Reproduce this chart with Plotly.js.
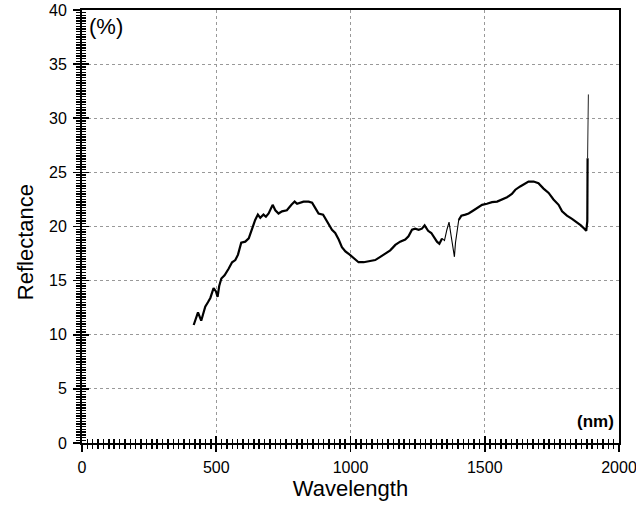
<!DOCTYPE html>
<html>
<head>
<meta charset="utf-8">
<script src="https://cdn.plot.ly/plotly-3.0.1.min.js"></script>
<style>html,body{margin:0;padding:0;background:#fff;}#chart{width:636px;height:506px;}</style>
</head>
<body>
<div id="chart"></div>
<script>
// Segment 1: 416–1341 nm (thick)
const wl1 = [416,432,444,459,469,478,490,499,505,511,519,531,546,559,571,581,593,608,621,633,645,655,664,676,685,695,710,720,732,745,763,780,792,801,813,825,844,857,869,881,898,912,931,943,956,968,981,997,1012,1030,1049,1067,1092,1111,1130,1148,1167,1185,1204,1216,1229,1241,1254,1266,1276,1289,1301,1313,1322,1331,1341];
const refl1 = [10.9,12.06,11.3,12.6,13.0,13.4,14.3,14.0,13.5,14.5,15.2,15.5,16.1,16.7,16.9,17.4,18.5,18.6,18.9,19.8,20.6,21.1,20.8,21.1,20.9,21.2,22.0,21.5,21.2,21.4,21.5,22.0,22.3,22.1,22.2,22.3,22.3,22.2,21.7,21.2,21.1,20.5,19.7,19.4,18.8,18.1,17.7,17.4,17.1,16.7,16.7,16.8,16.9,17.2,17.5,17.8,18.3,18.6,18.8,19.1,19.7,19.8,19.7,19.8,20.1,19.6,19.4,18.9,18.6,18.4,18.9];
// Segment 2: noisy 1341–1403 nm (thin)
const wl2 = [1341,1350,1359,1367,1375,1380,1387,1391,1398,1403];
const refl2 = [18.9,18.7,19.7,20.4,19.1,18.3,17.2,18.5,19.5,20.6];
// Segment 3: 1403–1883 nm (thick)
const wl3 = [1403,1413,1428,1440,1459,1477,1490,1508,1527,1546,1564,1583,1601,1614,1632,1651,1663,1682,1700,1719,1738,1756,1775,1788,1806,1825,1844,1858,1871,1878,1882,1883];
const refl3 = [20.6,21.0,21.1,21.2,21.5,21.8,22.0,22.1,22.25,22.3,22.5,22.7,23.0,23.4,23.7,24.0,24.15,24.15,24.0,23.5,23.1,22.5,22.0,21.4,21.0,20.7,20.4,20.1,19.8,19.6,20.5,26.3];
// Segment 4: end spike (thin)
const wl4 = [1883,1886];
const refl4 = [26.3,32.2];

const xTicks = [0,500,1000,1500,2000];
const yTicks = [0,5,10,15,20,25,30,35,40];

const font = 'Liberation Sans, Arial, sans-serif';
const traces = [
  {x: wl1, y: refl1, mode: 'lines', line: {color: '#000', width: 2.2}, hoverinfo: 'skip'},
  {x: wl2, y: refl2, mode: 'lines', line: {color: '#000', width: 1.1}, hoverinfo: 'skip'},
  {x: wl3, y: refl3, mode: 'lines', line: {color: '#000', width: 2.2}, hoverinfo: 'skip'},
  {x: wl4, y: refl4, mode: 'lines', line: {color: '#222', width: 1}, hoverinfo: 'skip'},
  {x: [0], y: [0], xaxis: 'x2', yaxis: 'y2', mode: 'markers', marker: {opacity: 0}, hoverinfo: 'skip'}
];

const layout = {
  width: 636, height: 506,
  margin: {l: 82, r: 17, t: 10, b: 63},
  paper_bgcolor: '#fff', plot_bgcolor: '#fff',
  showlegend: false,
  font: {family: font, color: '#000'},
  xaxis: {
    range: [0, 2000], tickvals: xTicks, ticktext: xTicks.map(String),
    ticks: 'outside', ticklen: 7, tickwidth: 1.6, tickcolor: '#000',
    minor: {dtick: 20, tick0: 0, ticks: 'outside', ticklen: 4, tickwidth: 1.5, tickcolor: '#000', showgrid: false},
    showline: true, linecolor: '#000', linewidth: 2, mirror: true,
    showgrid: true, gridcolor: '#999', griddash: 'dot', gridwidth: 1,
    zeroline: false, tickfont: {size: 16, family: font},
    ticklabelstandoff: 2, ticklabeloverflow: 'allow',
    title: {text: 'Wavelength', font: {size: 22, family: font}, standoff: 4}
  },
  yaxis: {
    range: [0, 40], tickvals: yTicks, ticktext: yTicks.map(String),
    ticks: 'outside', ticklen: 7, tickwidth: 1.6, tickcolor: '#000',
    minor: {dtick: 0.25, tick0: 0, ticks: 'outside', ticklen: 4, tickwidth: 1.4, tickcolor: '#000', showgrid: false},
    showline: true, linecolor: '#000', linewidth: 2, mirror: true,
    showgrid: true, gridcolor: '#999', griddash: 'dot', gridwidth: 1,
    zeroline: false, tickfont: {size: 16, family: font},
    ticklabelstandoff: 3, ticklabeloverflow: 'allow'
  },
  xaxis2: {
    overlaying: 'x', range: [0, 2000], tickvals: xTicks, showticklabels: false,
    ticks: 'inside', ticklen: 7, tickwidth: 1.6, tickcolor: '#000',
    minor: {dtick: 20, tick0: 0, ticks: 'inside', ticklen: 4, tickwidth: 1.5, tickcolor: '#000', showgrid: false},
    showgrid: false, zeroline: false, showline: false
  },
  yaxis2: {
    overlaying: 'y', range: [0, 40], tickvals: yTicks, showticklabels: false,
    ticks: 'inside', ticklen: 7, tickwidth: 1.6, tickcolor: '#000',
    minor: {dtick: 0.25, tick0: 0, ticks: 'inside', ticklen: 4, tickwidth: 1.4, tickcolor: '#000', showgrid: false},
    showgrid: false, zeroline: false, showline: false
  },
  annotations: [
    {text: 'Reflectance', xref: 'paper', yref: 'paper', x: -0.106, y: 0.464, xanchor: 'center', yanchor: 'middle',
     textangle: -90, showarrow: false, font: {size: 22, family: font, color: '#000'}},
    {text: '(%)', xref: 'paper', yref: 'paper', x: 0.01, y: 0.995, xanchor: 'left', yanchor: 'top',
     showarrow: false, font: {size: 22, family: font, color: '#000'}},
    {text: '<b>(nm)</b>', xref: 'paper', yref: 'paper', x: 0.995, y: 0.022, xanchor: 'right', yanchor: 'bottom',
     showarrow: false, font: {size: 17, family: font, color: '#000'}}
  ]
};

Plotly.newPlot('chart', traces, layout, {staticPlot: true, displayModeBar: false});
</script>
</body>
</html>
